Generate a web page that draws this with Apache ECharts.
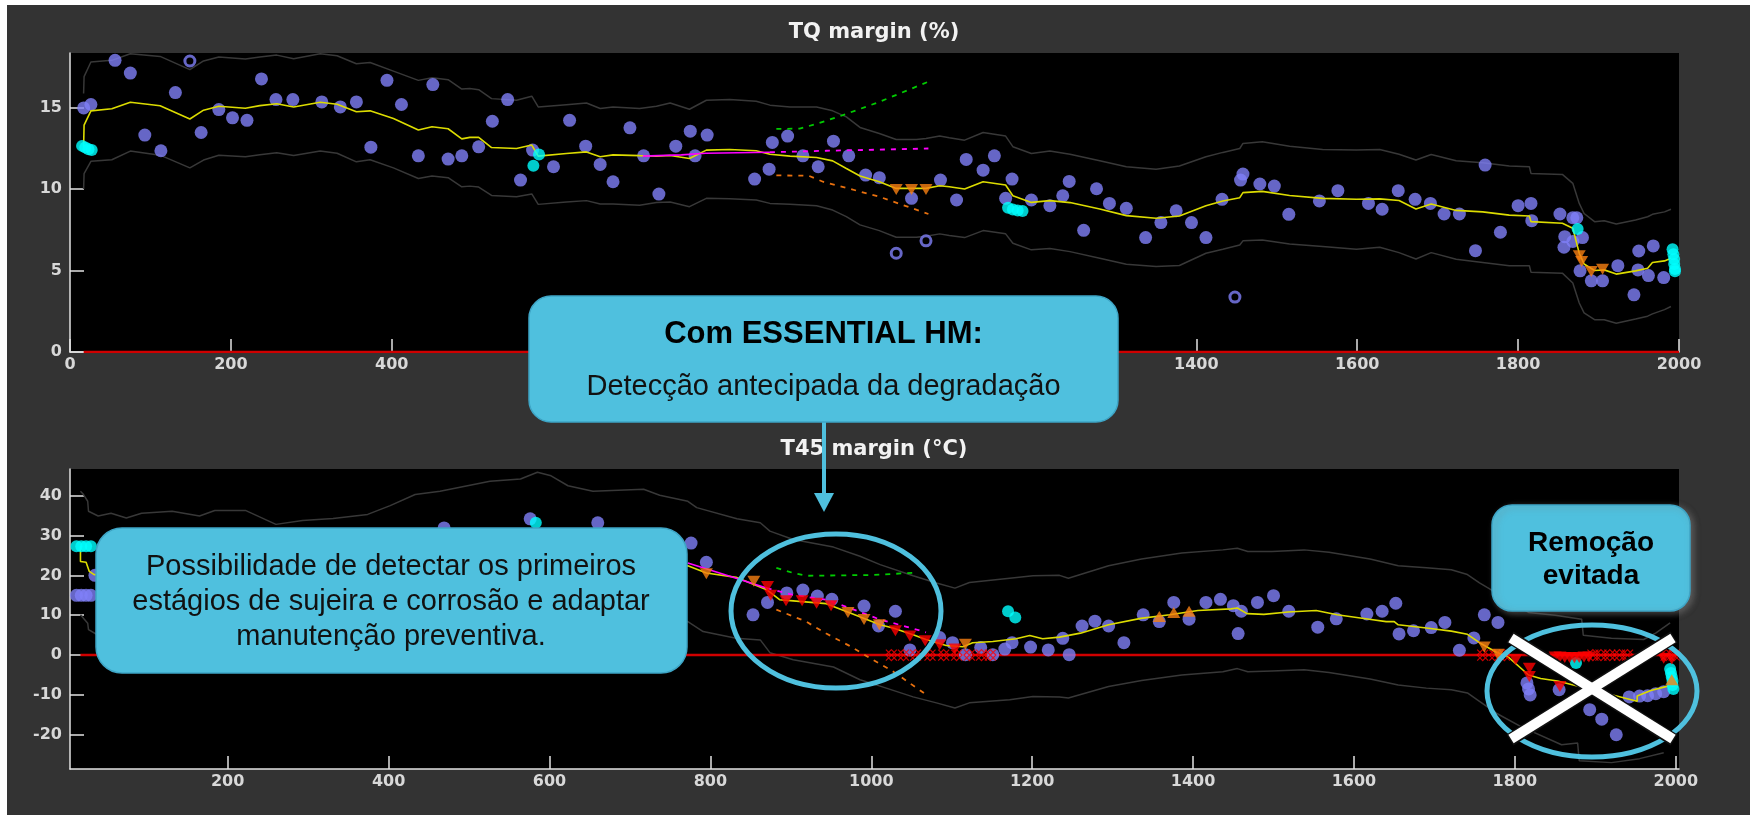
<!DOCTYPE html>
<html>
<head>
<meta charset="utf-8">
<script src="https://cdn.jsdelivr.net/npm/echarts@6.0.0/dist/echarts.min.js"></script>
<style>
  html, body { margin: 0; padding: 0; background: #fff; }
  #chart { width: 1750px; height: 815px; }
</style>
</head>
<body>
<div id="chart"></div>
<script>
// ---------- TQ margin (%) ----------
const tqLineX = [16.9, 17.5, 26, 52, 75, 112, 149, 166, 185, 218, 236, 257, 278, 311, 332, 356, 373, 402, 433, 450,
  470, 487, 497, 508, 524, 555, 574, 582, 617, 642, 659, 675, 708, 729, 746, 770, 791, 820, 853, 870,
  895, 928, 948, 965, 982, 1006, 1027, 1052, 1064, 1081, 1093, 1112, 1135, 1163, 1172, 1195, 1218, 1243, 1280, 1313,
  1350, 1379, 1412, 1433, 1454, 1458, 1482, 1516, 1557, 1599, 1628, 1652, 1673, 1692, 1723, 1756, 1789, 1814, 1816, 1855,
  1868, 1876, 1882, 1895, 1907, 1922, 1946, 1961, 1967, 1982, 1990]
const tqMid = [12.6, 13.92, 14.8, 14.93, 15.33, 15.11, 14.3, 14.84, 15.08, 14.96, 15.12, 15.24, 15.04, 15.33, 15.2, 14.74, 14.8, 14.33, 13.62, 13.82,
  13.7, 13.08, 13.17, 13.17, 12.55, 12.49, 12.7, 12.02, 12.18, 12.28, 11.98, 12.1, 12.05, 12.02, 12.06, 11.88, 12.39, 12.43, 12.35, 12.14,
  12.02, 11.94, 11.73, 11.26, 10.8, 10.45, 10.04, 10.04, 10.04, 10.2, 10.14, 10.0, 10.45, 10.25, 9.59, 9.18, 9.29, 9.17, 8.78, 8.37,
  8.21, 8.35, 8.98, 9.27, 9.47, 9.78, 9.86, 9.6, 9.43, 9.37, 9.4, 9.3, 8.78, 9.08, 8.69, 8.6, 8.4, 8.35, 8.0, 7.9,
  7.6, 6.06, 5.4, 5.0, 5.04, 4.78, 4.98, 5.14, 5.49, 5.59, 5.75]
const tqUpper = [15.86, 16.9, 17.8, 17.9, 18.3, 18.14, 17.33, 17.86, 18.1, 17.98, 18.1, 18.22, 18.0, 18.3, 18.18, 17.69, 17.77, 17.24, 16.67, 16.83,
  16.71, 16.14, 16.17, 16.1, 15.55, 15.45, 15.7, 15.04, 15.18, 15.28, 14.94, 15.04, 14.94, 15.08, 15.28, 14.9, 15.45, 15.49, 15.39, 15.15,
  15.04, 15.04, 14.8, 14.43, 13.78, 13.41, 13.04, 13.04, 13.1, 13.25, 13.15, 13.0, 13.47, 13.25, 12.6, 12.18, 12.33, 12.14, 11.74, 11.37,
  11.22, 11.41, 11.98, 12.25, 12.49, 12.8, 12.9, 12.63, 12.43, 12.39, 12.43, 12.14, 11.78, 12.12, 11.74, 11.62, 11.41, 11.37, 10.96, 10.9,
  10.35, 9.12, 8.5, 8.0, 8.06, 7.86, 8.1, 8.3, 8.45, 8.6, 8.76]
const tqLower = [10.0, 10.95, 11.7, 11.8, 12.33, 12.08, 11.3, 11.78, 12.08, 11.98, 12.1, 12.23, 12.06, 12.33, 12.2, 11.67, 11.8, 11.3, 10.65, 10.8,
  10.7, 10.14, 10.18, 10.12, 9.61, 9.53, 9.7, 9.06, 9.2, 9.29, 9.08, 9.08, 9.0, 9.17, 9.2, 8.92, 9.43, 9.41, 9.33, 9.12,
  9.06, 8.98, 8.71, 8.31, 7.8, 7.45, 7.04, 7.04, 7.1, 7.25, 7.15, 7.02, 7.45, 7.25, 6.67, 6.27, 6.35, 6.16, 5.75, 5.39,
  5.24, 5.31, 6.06, 6.3, 6.57, 6.82, 6.88, 6.63, 6.47, 6.31, 6.43, 6.1, 5.71, 6.1, 5.69, 5.49, 5.29, 5.29, 4.9, 4.84,
  4.23, 3.01, 2.4, 1.98, 1.98, 1.77, 2.02, 2.2, 2.34, 2.6, 2.79]

const tqPoints = [[56, 17.9], [75, 17.12], [131, 15.92], [238, 16.76], [17, 14.98], [26, 15.19], [185, 14.88], [202, 14.37], [220, 14.22],
  [256, 15.49], [277, 15.49], [313, 15.35], [336, 15.04], [356, 15.35], [394, 16.67], [451, 16.41], [412, 15.19], [93, 13.31],
  [163, 13.47], [113, 12.35], [374, 12.57], [433, 12.04], [470, 11.84], [487, 12.04],
  [544, 15.49], [525, 14.16], [621, 14.22], [696, 13.76], [771, 13.55], [792, 13.31], [508, 12.59], [641, 12.63], [753, 12.63],
  [575, 12.39], [777, 12.04], [713, 12.04], [601, 11.37], [659, 11.51], [560, 10.55], [675, 10.45], [732, 9.69], [873, 12.86],
  [892, 13.25], [949, 12.94], [911, 12.04], [930, 11.37], [968, 12.04], [869, 11.22], [851, 10.61], [989, 10.86], [1006, 10.7],
  [1082, 10.55], [1046, 9.43], [1102, 9.33], [1114, 11.82], [1149, 12.04], [1135, 11.16], [1171, 10.61], [1163, 9.43], [1195, 9.33],
  [1218, 8.98], [1234, 9.59], [1242, 10.47], [1276, 10.02], [1260, 7.47], [1292, 9.12], [1313, 8.82], [1337, 7.02], [1356, 7.94],
  [1375, 8.67], [1394, 7.94], [1412, 7.02], [1432, 9.37], [1458, 10.92], [1455, 10.55], [1479, 10.31], [1497, 10.18], [1515, 8.45],
  [1553, 9.27], [1576, 9.9], [1614, 9.12], [1631, 8.76], [1651, 9.9], [1672, 9.37], [1691, 9.12], [1708, 8.47], [1727, 8.47],
  [1759, 11.47], [1747, 6.22], [1778, 7.35], [1800, 8.98], [1816, 9.12], [1817, 8.06], [1852, 8.47], [1868, 8.24], [1873, 8.24],
  [1858, 7.08], [1880, 7.02], [1868, 6.78], [1857, 6.43], [1877, 4.98], [1891, 4.37], [1905, 4.37], [1924, 5.3], [1949, 5.04],
  [1950, 6.2], [1968, 6.51], [1962, 4.69], [1981, 4.57], [1944, 3.51]]
const tqHollow = [[149, 17.86], [1064, 6.82], [1027, 6.06], [1448, 3.37]]
const tqCyan = [[15, 12.65], [19, 12.55], [23, 12.45], [27, 12.4], [576, 11.43], [583, 12.12], [1166, 8.85], [1172, 8.75],
  [1178, 8.68], [1184, 8.65], [1874, 7.55], [1992, 6.3], [1993, 6.0], [1994, 5.7], [1994, 5.4], [1995, 5.1], [1995, 4.95]]
const tqOrangeDown = [[1027, 9.98], [1046, 9.98], [1064, 9.98], [1876, 5.9], [1879, 5.55], [1891, 4.94], [1905, 5.08]]
const tqMagenta = [[712, 12.02], [760, 12.1], [790, 12.2], [870, 12.26]]
const tqMagentaDash = [[870, 12.26], [940, 12.35], [1006, 12.42], [1067, 12.49]]
const tqGreenDash = [[878, 13.69], [907, 13.71], [928, 14.0], [957, 14.47], [1006, 15.35], [1067, 16.59]]
const tqOrangeDash = [[878, 10.84], [918, 10.82], [936, 10.45], [1006, 9.53], [1067, 8.47]]
const tqZero = [[17, 0], [2000, 0]]

// ---------- T45 margin (°C) ----------
const t45Mid = [[17, 27.3], [17, 23.5], [24, 23.3], [28, 21.0], [34, 20.2], [772, 22.4], [795, 20.6], [832, 19.5], [870, 16.4],
  [886, 13.9], [903, 13.6], [944, 12.9], [973, 10.6], [1011, 7.6], [1027, 6.8], [1052, 5.1], [1068, 3.9], [1093, 2.4], [1114, 2.1],
  [1126, 3.1], [1151, 3.4], [1180, 4.1], [1197, 4.9], [1213, 4.1], [1234, 4.5], [1260, 5.5], [1295, 7.6], [1335, 9.2], [1371, 10.1],
  [1406, 11.2], [1447, 11.6], [1455, 11.8], [1467, 10.4], [1488, 10.2], [1518, 10.8], [1553, 11.2], [1579, 10.1], [1619, 9.0],
  [1640, 8.4], [1650, 8.4], [1655, 7.6], [1690, 6.8], [1721, 6.0], [1741, 5.2], [1756, 3.1], [1777, 0.7], [1792, -0.5], [1817, -5.0],
  [1832, -5.9], [1853, -6.5], [1952, -11.6], [1952, -10.3], [1969, -8.9], [1990, -7.8], [1995, -6.2]]
const t45Upper = [[17, 41.1], [20, 40.5], [26, 38.6], [27, 36.1], [39, 34.9], [55, 35.6], [74, 34.4], [93, 35.6], [131, 36.1], [165, 34.9],
  [184, 36.3], [222, 36.3], [260, 32.8], [293, 33.8], [331, 34.3], [374, 35.3], [402, 37.5], [433, 40.3], [464, 41.1], [526, 43.6],
  [564, 44.2], [585, 45.9], [602, 45.0], [623, 42.5], [654, 41.1], [717, 41.6], [737, 40.1], [772, 38.6], [783, 37.0], [833, 34.2],
  [862, 33.2], [874, 31.1], [903, 29.0], [953, 27.1], [986, 24.8], [1011, 22.7], [1052, 19.9], [1081, 18.1], [1104, 16.8], [1122, 18.2],
  [1172, 19.3], [1201, 19.9], [1234, 20.0], [1245, 19.3], [1295, 22.4], [1336, 24.1], [1386, 25.6], [1437, 26.4], [1455, 26.8],
  [1468, 26.0], [1498, 26.0], [1538, 26.4], [1569, 25.8], [1620, 24.1], [1655, 22.4], [1690, 21.9], [1721, 21.4], [1741, 20.2],
  [1756, 18.1], [1777, 15.6], [1817, 10.7], [1850, 10.0], [1883, 9.0], [1885, 5.0], [1920, 4.2], [1960, 3.9], [1975, 5.5], [1993, 8.1]]
const t45Lower = [[17, 10.1], [26, 8.0], [27, 6.4], [38, 5.1], [772, 8.4], [791, 5.9], [832, 4.2], [862, 3.8], [874, 0.6], [903, -1.2],
  [953, -3.0], [986, -6.2], [1011, -7.8], [1052, -10.5], [1081, -12.0], [1104, -13.3], [1122, -12.0], [1172, -11.2], [1201, -10.4],
  [1234, -10.5], [1245, -10.8], [1295, -7.9], [1336, -6.4], [1386, -5.0], [1437, -4.2], [1455, -3.4], [1468, -4.2], [1498, -4.0],
  [1538, -3.7], [1569, -4.4], [1620, -6.0], [1655, -7.5], [1690, -8.3], [1721, -8.7], [1741, -9.5], [1756, -11.6], [1777, -14.6],
  [1807, -17.9], [1858, -22.5], [1878, -22.1], [1880, -26.5], [1920, -27.0], [1955, -26.0], [1985, -24.5]]

const t45Points = [[12, 15], [18, 15], [24, 15], [30, 15], [35, 20.0], [469, 31.9], [576, 34.2], [660, 33.2], [776, 28.1], [795, 23.3],
  [853, 10.1], [871, 13.2], [895, 15.6], [915, 16.3], [933, 14.8], [951, 14.0], [991, 12.3], [1009, 7.3], [1030, 11.0], [1048, 1.3],
  [1085, 4.4], [1101, 3.1], [1117, 0.1], [1136, 1.9], [1151, 0.1], [1166, 1.5], [1175, 3.1], [1198, 2.0], [1220, 1.3], [1238, 4.2],
  [1246, 0.1], [1262, 7.3], [1278, 8.5], [1295, 7.3], [1314, 3.1], [1338, 10.1], [1358, 8.4], [1376, 13.2],
  [1395, 9.0], [1416, 13.2], [1434, 14.0], [1450, 12.4], [1456, 5.4], [1460, 11.0], [1480, 13.2], [1500, 14.9], [1519, 11.0],
  [1555, 7.0], [1578, 9.1], [1616, 10.3], [1635, 11.0], [1652, 13.0], [1656, 5.3], [1674, 6.1], [1696, 6.9], [1713, 8.2],
  [1731, 1.2], [1749, 4.3], [1762, 10.1], [1779, 8.2],
  [1815, -7.0], [1817, -8.5], [1819, -10.0], [1855, -8.7], [1893, -13.7], [1908, -16.1], [1926, -20.0],
  [1942, -10.5], [1955, -10.3], [1965, -10.2], [1975, -9.7], [1985, -9.2]]
const t45Cyan = [[12, 27.3], [18, 27.3], [24, 27.3], [30, 27.3], [583, 33.2], [1170, 11.0], [1179, 9.4], [1876, -2.0],
  [1993, -3.5], [1994, -4.5], [1995, -5.5], [1996, -6.5], [1996, -7.5], [1997, -8.5]]
const t45OrangeDown = [[795, 20.4], [854, 18.5], [971, 10.7], [991, 8.9], [1010, 7.6], [1117, 2.7], [1762, 2.0], [1779, 0.2]]
const t45OrangeUp = [[1358, 9.7], [1376, 10.7], [1395, 11.0], [1995, -6.2]]
const t45RedDown = [[871, 17.2], [875, 15.0], [894, 13.6], [914, 13.6], [932, 13.0], [950, 12.4], [1030, 6.1], [1048, 4.8],
  [1067, 3.6], [1085, 2.6], [1104, 1.5], [1801, -1.2], [1818, -3.3], [1818, -5.4], [1856, -7.9], [1850, -0.5], [1856, -0.5],
  [1862, -0.6], [1868, -0.6], [1874, -0.7], [1880, -0.6], [1886, -0.5], [1892, -0.5], [1985, -0.8], [1995, -1.0]]
const t45RedCross = [[1025, 0], [1040, 0], [1055, 0], [1073, 0], [1090, 0], [1106, 0], [1122, 0], [1137, 0], [1148, 0],
  [1760, 0], [1775, 0], [1787, 0], [1897, 0], [1907, 0], [1918, 0], [1930, 0], [1940, 0], [1988, 0], [1998, 0]]
const t45Magenta = [[772, 23.1], [832, 19.3], [870, 16.8]]
const t45MagentaDash = [[870, 16.8], [903, 15.1], [944, 13.9], [973, 11.8], [1011, 8.9], [1044, 7.1], [1068, 5.7]]
const t45GreenDash = [[882, 21.9], [903, 20.6], [919, 19.9], [1002, 20.1], [1058, 20.7]]
const t45OrangeDash = [[882, 11.4], [919, 8.4], [944, 5.4], [973, 2.3], [1002, -1.2], [1027, -4.1], [1068, -9.9]]
const t45Zero = [[17, 0], [2004, 0]]

// tick labels
const tqXTicks = [0, 200, 400, 600, 800, 1000, 1200, 1400, 1600, 1800, 2000]
const tqYTicks = [0, 5, 10, 15]
const t45XTicks = [200, 400, 600, 800, 1000, 1200, 1400, 1600, 1800, 2000]
const t45YTicks = [-20, -10, 0, 10, 20, 30, 40]

const AXIS = '#e2e2e2'
const LABEL = '#d8d8d8'
const PURPLE = '#8080f8'
const CYAN = '#00ffff'
const ORANGE = '#f77f12'
const RED = '#ff0000'
const BOUND = '#383838'
const YELLOW = '#dcdc00'
const CALLOUT = '#4fc0de'

const chart = echarts.init(document.getElementById('chart'))

const plainNum = (v) => String(v)

const xAxisCfg = (gi, min, max, ticks) => ({
  type: 'value',
  gridIndex: gi,
  min,
  max,
  axisLine: { show: true, onZero: false, lineStyle: { color: AXIS, width: 1.5 } },
  axisTick: { show: true, inside: true, length: 13, customValues: ticks, lineStyle: { color: AXIS, width: 1.5 } },
  axisLabel: { show: true, customValues: ticks, formatter: plainNum, color: LABEL, fontFamily: 'DejaVu Sans', fontWeight: 'bold', fontSize: 16, margin: 5 },
  splitLine: { show: false },
})

const yAxisCfg = (gi, min, max, ticks) => ({
  type: 'value',
  gridIndex: gi,
  min,
  max,
  axisLine: { show: true, onZero: false, lineStyle: { color: AXIS, width: 1.5 } },
  axisTick: { show: true, inside: true, length: 14, customValues: ticks, lineStyle: { color: AXIS, width: 1.5 } },
  axisLabel: { show: true, customValues: ticks, formatter: plainNum, color: LABEL, fontFamily: 'DejaVu Sans', fontWeight: 'bold', fontSize: 16, margin: 8 },
  splitLine: { show: false },
})

const line = (data, gi, color, width, type, z) => ({
  type: 'line',
  xAxisIndex: gi,
  yAxisIndex: gi,
  data,
  symbol: 'none',
  silent: true,
  z: z || 3,
  lineStyle: { color, width, type: type || 'solid' },
})

const dots = (data, gi, opts) => ({
  type: 'scatter',
  xAxisIndex: gi,
  yAxisIndex: gi,
  data,
  silent: true,
  symbol: opts.symbol || 'circle',
  symbolSize: opts.size || 13,
  symbolRotate: opts.rotate || 0,
  z: opts.z || 2,
  itemStyle: opts.style,
})

const CROSS = 'path://M0,0L10,10M10,0L0,10M5,0L10,5L5,10L0,5Z'

const series = [
  // top chart
  line(tqLineX.map((x, i) => [x, tqUpper[i]]), 0, BOUND, 1.5, 'solid', 1),
  line(tqLineX.map((x, i) => [x, tqLower[i]]), 0, BOUND, 1.5, 'solid', 1),
  line(tqZero, 0, '#d00000', 2.5, 'solid', 1),
  dots(tqPoints, 0, { style: { color: PURPLE } }),
  dots(tqHollow, 0, { size: 10, style: { color: '#000', borderColor: PURPLE, borderWidth: 3 } }),
  line(tqLineX.map((x, i) => [x, tqMid[i]]), 0, YELLOW, 1.6),
  line(tqMagenta, 0, '#ff00ff', 1.6),
  line(tqMagentaDash, 0, '#ff00ff', 1.8, [5, 6]),
  line(tqGreenDash, 0, '#00cc00', 1.8, [5, 6]),
  line(tqOrangeDash, 0, '#e8700e', 1.8, [5, 6]),
  dots(tqCyan, 0, { size: 12, z: 4, style: { color: CYAN } }),
  dots(tqOrangeDown, 0, { symbol: 'triangle', rotate: 180, size: [13, 11], z: 5, style: { color: ORANGE } }),
  // bottom chart
  line(t45Upper, 1, BOUND, 1.5, 'solid', 1),
  line(t45Lower, 1, BOUND, 1.5, 'solid', 1),
  line(t45Zero, 1, '#d00000', 2.5, 'solid', 1),
  dots(t45Points, 1, { style: { color: PURPLE } }),
  line(t45Mid, 1, YELLOW, 1.6),
  line(t45Magenta, 1, '#ff00ff', 1.6),
  line(t45MagentaDash, 1, '#ff00ff', 1.8, [5, 6]),
  line(t45GreenDash, 1, '#00cc00', 1.8, [5, 6]),
  line(t45OrangeDash, 1, '#e8700e', 1.8, [5, 6]),
  dots(t45Cyan, 1, { size: 12, z: 4, style: { color: CYAN } }),
  dots(t45RedCross, 1, { symbol: CROSS, size: 11, z: 4, style: { color: 'transparent', borderColor: RED, borderWidth: 1.2 } }),
  dots(t45OrangeDown, 1, { symbol: 'triangle', rotate: 180, size: [13, 11], z: 5, style: { color: ORANGE } }),
  dots(t45OrangeUp, 1, { symbol: 'triangle', size: [13, 11], z: 5, style: { color: ORANGE } }),
  dots(t45RedDown, 1, { symbol: 'triangle', rotate: 180, size: [13, 11], z: 5, style: { color: RED } }),
]

const FONT = '"Liberation Sans", Arial, sans-serif'

const graphic = [
  // white page margin
  { type: 'rect', shape: { x: 0, y: 0, width: 1750, height: 5 }, style: { fill: '#fff' }, z: 1, silent: true },
  { type: 'rect', shape: { x: 0, y: 0, width: 7, height: 815 }, style: { fill: '#fff' }, z: 1, silent: true },
  // axes titles
  { type: 'text', x: 874, y: 33, z: 50, style: { text: 'TQ margin (%)', fill: '#f2f2f2', font: 'bold 21px "DejaVu Sans"', align: 'center', verticalAlign: 'middle' } },
  { type: 'text', x: 874, y: 450, z: 50, style: { text: 'T45 margin (°C)', fill: '#f2f2f2', font: 'bold 21px "DejaVu Sans"', align: 'center', verticalAlign: 'middle' } },
  // top callout with arrow
  { type: 'line', z: 99, shape: { x1: 824, y1: 420, x2: 824, y2: 497 }, style: { stroke: CALLOUT, lineWidth: 4 } },
  { type: 'polygon', z: 99, shape: { points: [[814, 493], [834, 493], [824, 512]] }, style: { fill: CALLOUT } },
  { type: 'rect', z: 100, shape: { x: 529, y: 296, width: 589, height: 126, r: 22 }, style: { fill: CALLOUT, stroke: '#3ea5c6', lineWidth: 1.5 } },
  { type: 'text', z: 101, x: 823.5, y: 334, style: { text: 'Com ESSENTIAL HM:', fill: '#000', font: 'bold 31px ' + FONT, align: 'center', verticalAlign: 'middle' } },
  { type: 'text', z: 101, x: 823.5, y: 387, style: { text: 'Detecção antecipada da degradação', fill: '#111', font: '29px ' + FONT, align: 'center', verticalAlign: 'middle' } },
  // circled area in the middle
  { type: 'ellipse', z: 100, shape: { cx: 836, cy: 611, rx: 105, ry: 77 }, style: { fill: 'none', stroke: CALLOUT, lineWidth: 5 } },
  // left callout
  { type: 'rect', z: 100, shape: { x: 96, y: 528, width: 591, height: 145, r: 26 }, style: { fill: CALLOUT, stroke: '#3ea5c6', lineWidth: 1.5 } },
  { type: 'text', z: 101, x: 391, y: 567, style: { text: 'Possibilidade de detectar os primeiros', fill: '#111', font: '29px ' + FONT, align: 'center', verticalAlign: 'middle' } },
  { type: 'text', z: 101, x: 391, y: 602, style: { text: 'estágios de sujeira e corrosão e adaptar', fill: '#111', font: '29px ' + FONT, align: 'center', verticalAlign: 'middle' } },
  { type: 'text', z: 101, x: 391, y: 637, style: { text: 'manutenção preventiva.', fill: '#111', font: '29px ' + FONT, align: 'center', verticalAlign: 'middle' } },
  // right callout
  { type: 'rect', z: 100, shape: { x: 1492, y: 505, width: 198, height: 106, r: 20 }, style: { fill: CALLOUT, stroke: '#3ea5c6', lineWidth: 1.5, shadowBlur: 6, shadowColor: 'rgba(120,120,120,0.6)', shadowOffsetX: 3, shadowOffsetY: 2 } },
  { type: 'text', z: 101, x: 1591, y: 543, style: { text: 'Remoção', fill: '#000', font: 'bold 28px ' + FONT, align: 'center', verticalAlign: 'middle' } },
  { type: 'text', z: 101, x: 1591, y: 576, style: { text: 'evitada', fill: '#000', font: 'bold 28px ' + FONT, align: 'center', verticalAlign: 'middle' } },
  { type: 'ellipse', z: 100, shape: { cx: 1592, cy: 691, rx: 105, ry: 66 }, style: { fill: 'none', stroke: CALLOUT, lineWidth: 5 } },
  // crossed out
  { type: 'line', z: 102, shape: { x1: 1510, y1: 637, x2: 1674, y2: 740 }, style: { stroke: '#111', lineWidth: 13 } },
  { type: 'line', z: 102, shape: { x1: 1674, y1: 637, x2: 1510, y2: 740 }, style: { stroke: '#111', lineWidth: 13 } },
  { type: 'line', z: 103, shape: { x1: 1511, y1: 638, x2: 1673, y2: 739 }, style: { stroke: '#fff', lineWidth: 10 } },
  { type: 'line', z: 103, shape: { x1: 1673, y1: 638, x2: 1511, y2: 739 }, style: { stroke: '#fff', lineWidth: 10 } },
]

const option = {
  animation: false,
  backgroundColor: '#333333',
  grid: [
    { left: 70, right: 71, top: 53, bottom: 463, show: true, backgroundColor: '#000', borderWidth: 0, outerBoundsMode: 'none' },
    { left: 70, right: 71, top: 469, bottom: 46, show: true, backgroundColor: '#000', borderWidth: 0, outerBoundsMode: 'none' },
  ],
  xAxis: [xAxisCfg(0, 0, 2000, tqXTicks), xAxisCfg(1, 4, 2004, t45XTicks)],
  yAxis: [yAxisCfg(0, 0, 18.35, tqYTicks), yAxisCfg(1, -28.6, 46.7, t45YTicks)],
  series,
  graphic,
}

chart.setOption(option)
</script>
</body>
</html>
